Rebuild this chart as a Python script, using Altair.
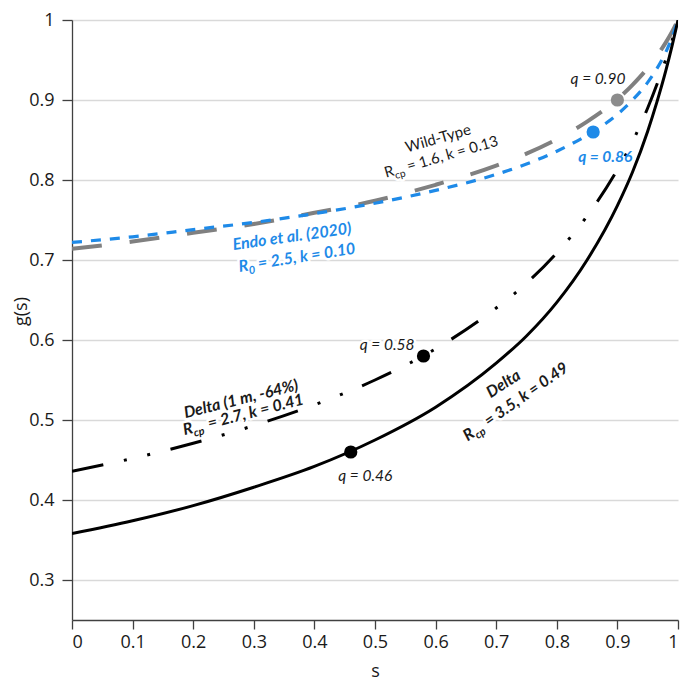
import altair as alt
import pandas as pd

# ---- data ----
s_vals = [0, 0.1, 0.2, 0.3, 0.4, 0.5, 0.6, 0.7, 0.75, 0.8, 0.85, 0.9, 0.925, 0.95, 0.965, 0.98, 0.99, 1.0]
g_delta = [0.358, 0.374, 0.393, 0.416, 0.442, 0.475, 0.516, 0.571, 0.605, 0.647, 0.700, 0.768, 0.810, 0.861, 0.897, 0.937, 0.967, 1.0]
g_delta1m = [0.436, 0.452, 0.471, 0.493, 0.519, 0.550, 0.589, 0.640, 0.671, 0.709, 0.755, 0.813, 0.848, 0.890, 0.919, 0.951, 0.974, 1.0]
g_wildtype = [0.714, 0.723, 0.734, 0.745, 0.759, 0.774, 0.794, 0.818, 0.833, 0.851, 0.873, 0.901, 0.919, 0.940, 0.955, 0.972, 0.985, 1.0]
g_endo = [0.722, 0.729, 0.738, 0.747, 0.758, 0.771, 0.787, 0.807, 0.820, 0.836, 0.856, 0.882, 0.900, 0.922, 0.939, 0.960, 0.978, 1.0]

q_names = ["Wild-Type", "Endo et al. (2020)", "Delta (1 m, -64%)", "Delta"]
q_vals = [0.90, 0.86, 0.58, 0.46]
q_colors = ["#8c8c8c", "#1e8ae8", "#000000", "#000000"]

x_ticks = [0, 0.1, 0.2, 0.3, 0.4, 0.5, 0.6, 0.7, 0.8, 0.9, 1]
y_ticks = [0.3, 0.4, 0.5, 0.6, 0.7, 0.8, 0.9, 1]

BLUE = "#1e8ae8"
GRAY = "#808080"
INK = "#1a1a1a"
AFONT = "Open Sans"
TFONT = "Lato"

W, H = 606, 600

xscale = alt.Scale(domain=[0, 1], nice=False, zero=False)
yscale = alt.Scale(domain=[0.25, 1], nice=False, zero=False)

xaxis = alt.Axis(values=x_ticks, format="~g", grid=False, tickSize=9, tickWidth=1.3,
                 tickColor="#404040", domainColor="#404040", domainWidth=1.3,
                 labelFont=AFONT, labelFontSize=18, labelColor=INK, labelPadding=4,
                 title="s", titleFont=AFONT, titleFontSize=18, titleFontWeight="normal",
                 titleColor=INK, titleX=W / 2, titleY=60, titleBaseline="bottom",
                 titleAlign="center")
yaxis = alt.Axis(values=y_ticks, format="~g", grid=True, gridColor="#d9d9d9", gridWidth=1.3,
                 tickSize=10, tickWidth=1.3, tickColor="#404040", domainColor="#404040",
                 domainWidth=1.3, labelFont=AFONT, labelFontSize=18, labelColor=INK,
                 labelPadding=8, title="g(s)", titleFont=AFONT, titleFontSize=18,
                 titleFontWeight="normal", titleColor=INK, titleX=-51, titleY=291,
                 titleBaseline="middle", titleAlign="center", titleAngle=270)

X = alt.X("s:Q", scale=xscale, axis=xaxis)
Y = alt.Y("g:Q", scale=yscale, axis=yaxis)


def curve(vals, color, width, dash=None):
    df = pd.DataFrame({"s": s_vals, "g": vals})
    kw = dict(color=color, strokeWidth=width, interpolate="monotone", clip=True, strokeCap="butt")
    if dash:
        kw["strokeDash"] = dash
    return alt.Chart(df).mark_line(**kw).encode(x=X, y=Y)


lines = [
    curve(g_wildtype, GRAY, 4, [30, 28]),
    curve(g_endo, BLUE, 3.2, [10, 9]),
    curve(g_delta1m, "#000000", 3, [32, 21, 3, 21, 3, 21]),
    curve(g_delta, "#000000", 3),
]

pts = alt.Chart(pd.DataFrame({"s": q_vals, "g": q_vals, "c": q_colors, "n": q_names})).mark_circle(
    size=175, opacity=1).encode(x=X, y=Y, color=alt.Color("c:N", scale=None, legend=None))

# ---- annotation pieces
pieces = []


def add(s, g, text, angle=0, dx=0, dy=0, size=15, color=INK, weight="normal", style="normal",
        align="center", baseline="middle"):
    pieces.append(dict(s=s, g=g, text=text, angle=angle, dx=dx, dy=dy, size=size, color=color,
                       weight=weight, style=style, align=align, baseline=baseline))


def sub_label(s, g, sub, rest, angle, color, weight, style, subw, size=15):
    add(s, g, "R", angle, 0, 0, size, color, weight, style, "right", "alphabetic")
    add(s, g, sub, angle, 0, 4, size * 0.68, color, weight, style, "left", "alphabetic")
    add(s, g, rest, angle, subw + 4, 0, size, color, weight, style, "left", "alphabetic")


BI = 16
# Wild-type
add(0.604, 0.852, "Wild-Type", 344, size=15)
sub_label(0.533, 0.806, "cp", "= 1.6, k = 0.13", 344, INK, "normal", "normal", 10, 15)
# Endo
add(0.363, 0.729, "Endo et al. (2020)", 352, size=BI, color=BLUE, weight="bold", style="italic")
sub_label(0.292, 0.687, "0", "= 2.5, k = 0.10", 351, BLUE, "bold", "italic", 6, BI)
# Delta 1 m
add(0.279, 0.526, "Delta (1 m, -64%)", 346, size=BI, color=INK, weight="bold", style="italic")
sub_label(0.201, 0.484, "cp", "= 2.7, k = 0.41", 345.5, INK, "bold", "italic", 12, BI)
# Delta
add(0.712, 0.545, "Delta", 327, size=BI, color=INK, weight="bold", style="italic")
sub_label(0.666, 0.480, "cp", "= 3.5, k = 0.49", 325, INK, "bold", "italic", 12, BI)
# q labels
add(0.868, 0.926, "q = 0.90", size=15.5, style="italic")
add(0.880, 0.829, "q = 0.86", size=15.5, color=BLUE, weight="bold", style="italic")
add(0.520, 0.594, "q = 0.58", size=15.5, style="italic")
add(0.484, 0.430, "q = 0.46", size=15.5, style="italic")

halos = []
texts = []
for p in pieces:
    df = pd.DataFrame({"s": [p["s"]], "g": [p["g"]], "t": [p["text"]]})
    common = dict(font=TFONT, fontSize=p["size"], fontWeight=p["weight"], fontStyle=p["style"],
                  angle=p["angle"], dx=p["dx"], dy=p["dy"], align=p["align"], baseline=p["baseline"])
    halos.append(alt.Chart(df).mark_text(fill="white", stroke="white", strokeWidth=5,
                                         strokeJoin="round", **common).encode(x=X, y=Y, text="t:N"))
    texts.append(alt.Chart(df).mark_text(fill=p["color"], **common).encode(x=X, y=Y, text="t:N"))

chart = alt.layer(*halos, *lines, pts, *texts).properties(
    width=W, height=H,
    autosize=alt.AutoSizeParams(type="none"),
    padding={"left": 64, "top": 12, "right": 6, "bottom": 62},
).configure_view(stroke=None)

chart.save("out.html", embed_options={"renderer": "svg", "actions": False})
